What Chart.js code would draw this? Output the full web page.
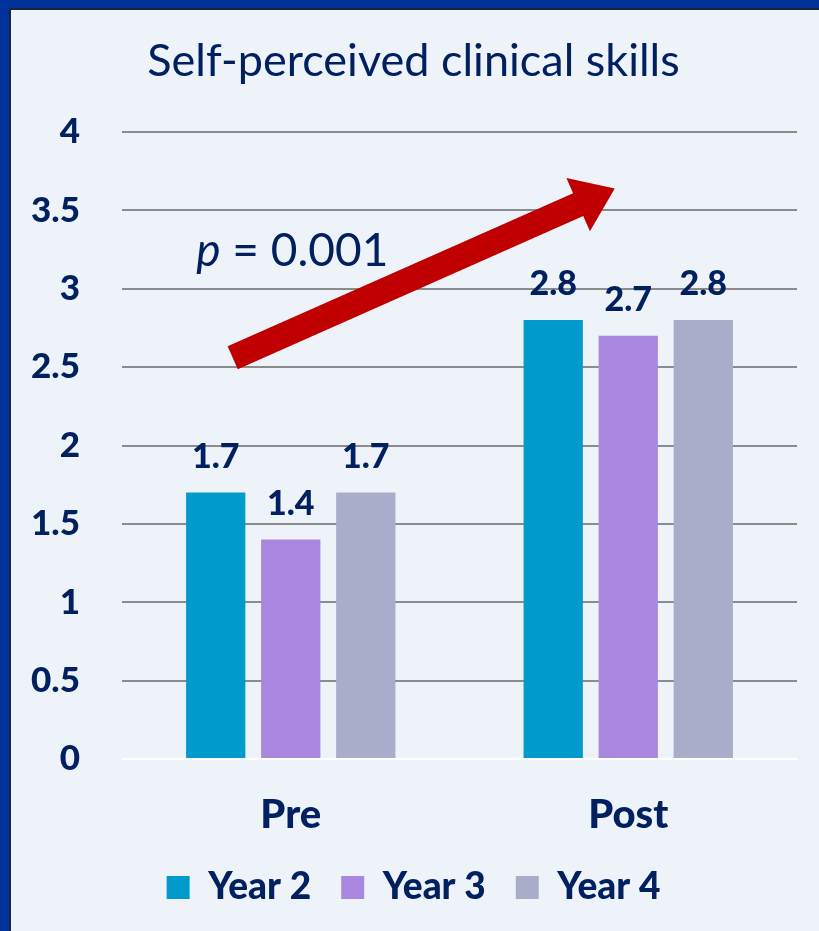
<!DOCTYPE html>
<html>
<head>
<meta charset="utf-8">
<script src="https://cdn.jsdelivr.net/npm/chart.js@4"></script>
<style>
html,body{margin:0;padding:0;background:#EEF3FA;}
canvas{display:block;}
</style>
</head>
<body>
<canvas id="c" width="819" height="931"></canvas>
<script>
const categories = ['Pre', 'Post'];
const seriesNames = ['Year 2', 'Year 3', 'Year 4'];
const year2 = [1.7, 2.8];
const year3 = [1.4, 2.7];
const year4 = [1.7, 2.8];
const yTicks = [0, 0.5, 1, 1.5, 2, 2.5, 3, 3.5, 4];
const chartTitle = 'Self-perceived clinical skills';
const pLabel = '0.001';

const NAVY = '#002060';
const FONT = 'Lato, "Open Sans", sans-serif';
const colors = ['#009BCC', '#A987DF', '#A9ADCA'];

// annotation anchor points in (category index, value) space
const arrowStart = { x: -0.172, y: 2.56 };
const arrowEnd = { x: 0.96, y: 3.64 };
const pAnchor = { x: -0.28, y: 3.24 };

const bgPlugin = {
  id: 'bg',
  beforeDraw(chart) {
    const c = chart.ctx;
    c.save();
    c.fillStyle = '#EEF3FA';
    c.fillRect(0, 0, chart.width, chart.height);
    c.fillStyle = '#003399';
    c.fillRect(0, 0, chart.width, 8);
    c.fillRect(0, 0, 9, chart.height);
    c.fillStyle = '#1A2440';
    c.fillRect(9, 8, chart.width - 9, 2);
    c.fillRect(9, 8, 2, chart.height - 8);
    c.restore();
  }
};

const labelPlugin = {
  id: 'valLabels',
  afterDatasetsDraw(chart) {
    const c = chart.ctx;
    c.save();
    c.fillStyle = NAVY;
    c.font = '900 34px ' + FONT;
    c.textAlign = 'center';
    c.textBaseline = 'alphabetic';
    chart.data.datasets.forEach((ds, i) => {
      const meta = chart.getDatasetMeta(i);
      meta.data.forEach((bar, j) => {
        c.fillText(ds.data[j].toFixed(1), bar.x, bar.y - 25);
      });
    });
    c.restore();
  }
};

const arrowPlugin = {
  id: 'arrow',
  afterDatasetsDraw(chart) {
    const xs = chart.scales.x, ys = chart.scales.y;
    const idxToPx = v => xs.getPixelForValue(0) + v * (xs.getPixelForValue(1) - xs.getPixelForValue(0));
    const x1 = idxToPx(arrowStart.x), y1 = ys.getPixelForValue(arrowStart.y);
    const x2 = idxToPx(arrowEnd.x), y2 = ys.getPixelForValue(arrowEnd.y);
    const dx = x2 - x1, dy = y2 - y1;
    const len = Math.hypot(dx, dy);
    const ux = dx / len, uy = dy / len;
    const nx = -uy, ny = ux;
    const sw = 12.5, hw = 29, hl = 40;
    const bx = x2 - ux * hl, by = y2 - uy * hl;
    const c = chart.ctx;
    c.save();
    c.fillStyle = '#C00000';
    c.beginPath();
    c.moveTo(x1 + nx * sw, y1 + ny * sw);
    c.lineTo(bx + nx * sw, by + ny * sw);
    c.lineTo(bx + nx * hw, by + ny * hw);
    c.lineTo(x2, y2);
    c.lineTo(bx - nx * hw, by - ny * hw);
    c.lineTo(bx - nx * sw, by - ny * sw);
    c.lineTo(x1 - nx * sw, y1 - ny * sw);
    c.closePath();
    c.fill();
    // p label
    const px = idxToPx(pAnchor.x), py = ys.getPixelForValue(pAnchor.y);
    c.fillStyle = NAVY;
    c.textBaseline = 'middle';
    c.textAlign = 'left';
    c.font = 'italic 46px ' + FONT;
    c.fillText('p', px, py);
    const w = c.measureText('p').width;
    c.font = '46px ' + FONT;
    c.fillText(' = ' + pLabel, px + w, py);
    c.restore();
  }
};

new Chart(document.getElementById('c'), {
  type: 'bar',
  data: {
    labels: categories,
    datasets: [
      { label: seriesNames[0], data: year2, backgroundColor: colors[0] },
      { label: seriesNames[1], data: year3, backgroundColor: colors[1] },
      { label: seriesNames[2], data: year4, backgroundColor: colors[2] }
    ]
  },
  options: {
    responsive: false,
    animation: false,
    devicePixelRatio: 1,
    layout: { padding: { left: 30, right: 22, top: 34, bottom: 15 } },
    datasets: { bar: { categoryPercentage: 0.667, barPercentage: 0.79 } },
    scales: {
      y: {
        min: 0, max: 4,
        afterBuildTicks(axis) { axis.ticks = yTicks.map(v => ({ value: v })); },
        afterFit(axis) { axis.width = 92; },
        ticks: {
          color: NAVY,
          font: { family: FONT, size: 35, weight: '900' },
          padding: 42,
          callback: v => String(v)
        },
        grid: {
          color: ctx => (ctx.tick && ctx.tick.value === 0) ? '#FFFFFF' : '#8C8C8C',
          lineWidth: 2,
          drawTicks: false
        },
        border: { display: false }
      },
      x: {
        afterFit(axis) { axis.height = 80; },
        ticks: {
          color: NAVY,
          font: { family: FONT, size: 40, weight: '900' },
          padding: 32
        },
        grid: { display: false, drawTicks: false },
        border: { display: false }
      }
    },
    plugins: {
      title: {
        display: true,
        text: chartTitle,
        color: NAVY,
        font: { family: FONT, size: 45, weight: 'normal' },
        padding: { top: 0, bottom: 44 }
      },
      legend: {
        position: 'bottom',
        labels: {
          color: NAVY,
          font: { family: FONT, size: 37, weight: '900' },
          boxWidth: 23,
          boxHeight: 23,
          padding: 30
        }
      },
      tooltip: { enabled: false }
    }
  },
  plugins: [bgPlugin, labelPlugin, arrowPlugin]
});
</script>
</body>
</html>
